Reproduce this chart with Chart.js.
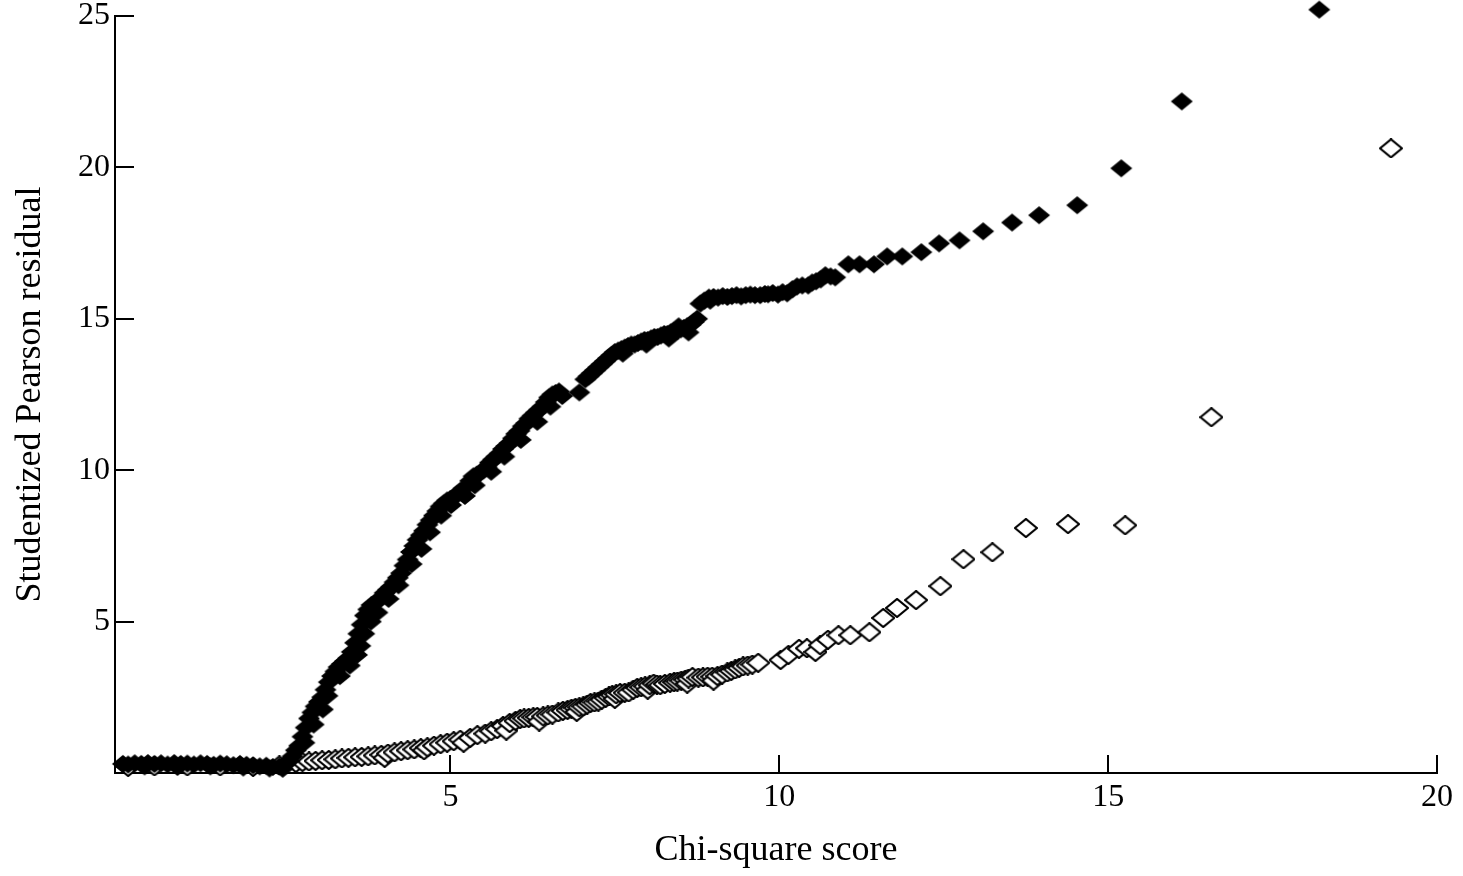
<!DOCTYPE html>
<html lang="en">
<head>
<meta charset="UTF-8">
<title>Studentized Pearson residual vs Chi-square score</title>
<script src="https://cdn.jsdelivr.net/npm/chart.js"></script>
<style>
  html, body { margin: 0; padding: 0; background: #ffffff; }
  #wrap { width: 1463px; height: 876px; position: relative; }
</style>
</head>
<body>
<div id="wrap"><canvas id="scatterChart"></canvas></div>
<script>
  // filled diamonds
  var filledX = [0.02, 0.10, 0.20, 0.30, 0.40, 0.50, 0.60, 0.70, 0.80, 0.90, 1.00, 1.10, 1.20, 1.30, 1.40, 1.50, 1.60, 1.70, 1.80, 1.90,
    2.00, 2.10, 2.20, 2.30, 2.40, 2.48, 2.55, 2.60, 2.65,
    2.70, 2.75, 2.80, 2.85, 2.90, 2.95, 3.00, 3.05, 3.10, 3.15, 3.20, 3.25, 3.30, 3.35, 3.40, 3.45, 3.50, 3.55, 3.60, 3.65,
    3.70, 3.75, 3.80, 3.85, 3.90, 3.95, 4.00, 4.05, 4.10, 4.15, 4.20, 4.25, 4.30, 4.35, 4.40, 4.45, 4.50, 4.55, 4.60, 4.65,
    4.70, 4.75, 4.80, 4.85, 4.90, 4.95, 5.00, 5.05, 5.10, 5.15, 5.20, 5.30, 5.35, 5.40, 5.45, 5.50, 5.55, 5.60, 5.65, 5.70,
    5.75, 5.80, 5.85, 5.90, 5.95, 6.00, 6.05, 6.10, 6.15, 6.20, 6.25, 6.30, 6.35, 6.40, 6.45, 6.50, 6.55, 6.60, 6.65, 6.96,
    7.05, 7.10, 7.15, 7.20, 7.25, 7.30, 7.35, 7.40, 7.45, 7.50, 7.55, 7.60, 7.65, 7.70, 7.75, 7.80, 7.85, 7.90, 7.95, 8.00,
    8.05, 8.10, 8.15, 8.20, 8.25, 8.30, 8.35, 8.40, 8.45, 8.50, 8.55, 8.60, 8.65, 8.70, 8.75,
    8.80, 8.86, 8.93, 9.00, 9.07, 9.14, 9.21, 9.28, 9.35, 9.42, 9.49, 9.56, 9.63, 9.71, 9.78, 9.83, 9.90, 9.98, 10.05, 10.12,
    10.20, 10.27, 10.35, 10.44, 10.50, 10.56, 10.63, 10.70, 10.78, 10.85, 11.05, 11.22, 11.44, 11.64, 11.87, 12.16, 12.43, 12.74, 13.10, 13.54,
    13.95, 14.53, 15.20, 16.12, 18.21,
    0.35, 0.85, 1.35, 1.85, 2.25, 2.45, 2.78, 2.92, 3.06, 3.13, 3.32, 3.47, 3.58, 3.63, 3.69, 3.79, 3.89, 4.06, 4.21, 4.41,
    4.56, 4.69, 4.86, 5.01, 5.22, 5.37, 5.62, 5.82, 6.07, 6.32, 6.52, 6.70, 7.62, 7.98, 8.32, 8.62, 8.47, 8.95];
  var filledY = [0.30, 0.28, 0.32, 0.30, 0.33, 0.30, 0.32, 0.28, 0.33, 0.30, 0.31, 0.28, 0.32, 0.30, 0.27, 0.31, 0.29, 0.26, 0.30, 0.27,
    0.25, 0.22, 0.24, 0.20, 0.22, 0.28, 0.40, 0.55, 0.75,
    0.90, 1.20, 1.50, 1.80, 2.00, 2.20, 2.35, 2.50, 2.75, 3.00, 3.20, 3.35, 3.50, 3.60, 3.70, 3.80, 4.00, 4.30, 4.60, 4.90,
    5.20, 5.40, 5.55, 5.60, 5.70, 5.80, 5.95, 6.05, 6.15, 6.30, 6.45, 6.60, 6.85, 7.05, 7.30, 7.50, 7.70, 7.85, 8.00, 8.20,
    8.35, 8.50, 8.65, 8.80, 8.90, 9.00, 9.05, 9.10, 9.20, 9.30, 9.40, 9.65, 9.80, 9.85, 9.90, 10.00, 10.10, 10.25, 10.35, 10.45,
    10.55, 10.70, 10.80, 10.90, 11.05, 11.20, 11.30, 11.45, 11.55, 11.70, 11.80, 11.90, 12.00, 12.10, 12.25, 12.40, 12.50, 12.55, 12.60, 12.57,
    13.00, 13.10, 13.20, 13.30, 13.40, 13.50, 13.60, 13.70, 13.80, 13.90, 13.95, 14.00, 14.05, 14.10, 14.15, 14.15, 14.20, 14.25, 14.30, 14.30,
    14.35, 14.40, 14.40, 14.45, 14.50, 14.50, 14.55, 14.60, 14.60, 14.65, 14.70, 14.75, 14.80, 14.90, 15.00,
    15.50, 15.60, 15.70, 15.72, 15.70, 15.75, 15.72, 15.75, 15.78, 15.74, 15.78, 15.80, 15.78, 15.78, 15.82, 15.81, 15.85, 15.80, 15.88, 15.84,
    15.98, 16.07, 16.10, 16.10, 16.20, 16.24, 16.30, 16.44, 16.40, 16.37, 16.80, 16.80, 16.80, 17.06, 17.06, 17.20, 17.49, 17.59, 17.89, 18.18,
    18.42, 18.75, 19.97, 22.18, 25.21,
    0.22, 0.20, 0.22, 0.18, 0.15, 0.14, 1.00, 1.60, 2.10, 2.55, 3.20, 3.55, 3.90, 4.20, 4.60, 5.00, 5.30, 5.75, 6.20, 6.90,
    7.40, 7.95, 8.50, 8.85, 9.15, 9.50, 9.95, 10.45, 11.00, 11.60, 12.10, 12.45, 13.85, 14.15, 14.35, 14.55, 14.75, 15.60];

  // hollow diamonds
  var hollowX = [0.10, 0.50, 1.00, 1.50, 2.00, 2.40,
    2.65, 2.75, 2.85, 2.95, 3.05, 3.15, 3.25, 3.35, 3.45, 3.55, 3.65, 3.75, 3.85, 3.95, 4.00, 4.05, 4.15, 4.25, 4.35, 4.45,
    4.55, 4.60, 4.65, 4.75, 4.85, 4.95, 5.05, 5.15, 5.20, 5.30, 5.41, 5.53, 5.62, 5.71, 5.80, 5.85, 5.90, 5.99, 6.06, 6.12, 6.19, 6.26, 6.32,
    6.35, 6.41, 6.48, 6.55, 6.64, 6.71, 6.78, 6.84, 6.90, 6.92, 6.96, 7.02, 7.08, 7.13, 7.19, 7.25, 7.30, 7.36, 7.41, 7.46, 7.50, 7.52, 7.58,
    7.65, 7.71, 7.78, 7.84, 7.90, 7.96, 8.00, 8.03, 8.09, 8.14, 8.19, 8.26, 8.34, 8.40, 8.45, 8.51, 8.57, 8.60, 8.62, 8.68, 8.77, 8.84,
    8.91, 8.98, 9.00, 9.06, 9.13, 9.21, 9.27, 9.33, 9.39, 9.45, 9.52, 9.59, 9.68,
    10.02, 10.14, 10.30, 10.42, 10.55, 10.62, 10.74, 10.90, 11.08, 11.37, 11.58, 11.79, 12.08, 12.45, 12.80, 13.24, 13.75, 14.39, 15.26, 16.57,
    19.30];
  var hollowY = [0.20, 0.22, 0.22, 0.22, 0.20, 0.25,
    0.33, 0.36, 0.38, 0.40, 0.42, 0.43, 0.45, 0.48, 0.50, 0.52, 0.53, 0.55, 0.58, 0.60, 0.50, 0.64, 0.68, 0.72, 0.75, 0.78,
    0.82, 0.75, 0.85, 0.90, 0.95, 1.00, 1.05, 1.10, 1.00, 1.16, 1.25, 1.30, 1.38, 1.45, 1.55, 1.40, 1.65, 1.72, 1.78, 1.80, 1.82, 1.84, 1.85,
    1.70, 1.87, 1.90, 1.93, 2.00, 2.05, 2.08, 2.12, 2.15, 2.02, 2.17, 2.20, 2.26, 2.31, 2.33, 2.36, 2.42, 2.48, 2.53, 2.57, 2.45, 2.60, 2.64,
    2.65, 2.66, 2.75, 2.81, 2.83, 2.86, 2.75, 2.90, 2.95, 2.92, 2.90, 2.94, 2.98, 3.00, 3.02, 3.05, 3.08, 2.95, 3.12, 3.17, 3.15, 3.16,
    3.18, 3.18, 3.05, 3.20, 3.25, 3.32, 3.37, 3.42, 3.47, 3.52, 3.55, 3.58, 3.64,
    3.73, 3.90, 4.10, 4.12, 4.00, 4.22, 4.40, 4.55, 4.55, 4.65, 5.12, 5.45, 5.71, 6.17, 7.06, 7.29, 8.09, 8.22, 8.18, 11.75,
    20.63];

  var xTickValues = [5, 10, 15, 20];
  var yTickValues = [5, 10, 15, 20, 25];

  function toPoints(xs, ys) {
    return xs.map((x, i) => ({ x: x, y: ys[i] }));
  }

  // diamond marker drawn once on a small canvas
  function diamond(filled) {
    let c = document.createElement("canvas");
    c.width = 24;
    c.height = 20;
    let ctx = c.getContext("2d");
    ctx.beginPath();
    ctx.moveTo(1, 10);
    ctx.lineTo(12, 1);
    ctx.lineTo(23, 10);
    ctx.lineTo(12, 19);
    ctx.closePath();
    if (filled) {
      ctx.fillStyle = "#000000";
      ctx.fill();
    } else {
      ctx.fillStyle = "#ffffff";
      ctx.fill();
      ctx.lineWidth = 2.2;
      ctx.strokeStyle = "#000000";
      ctx.stroke();
    }
    return c;
  }

  // tick marks pointing into the plot
  const innerTicks = {
    id: "innerTicks",
    afterDatasetsDraw(chart) {
      let ctx = chart.ctx;
      let xs = chart.scales.x, ys = chart.scales.y;
      let area = chart.chartArea;
      ctx.save();
      ctx.strokeStyle = "#000000";
      ctx.lineWidth = 2;
      ctx.beginPath();
      xTickValues.forEach(v => {
        let px = Math.round(xs.getPixelForValue(v));
        ctx.moveTo(px, area.bottom);
        ctx.lineTo(px, area.bottom - 18);
      });
      yTickValues.forEach(v => {
        let py = Math.round(ys.getPixelForValue(v));
        ctx.moveTo(area.left, py);
        ctx.lineTo(area.left + 19, py);
      });
      ctx.stroke();
      ctx.restore();
    }
  };

  const tickFont = { family: "'Liberation Serif', 'Times New Roman', serif", size: 32 };
  const titleFont = { family: "'Liberation Serif', 'Times New Roman', serif", size: 36 };

  new Chart(document.getElementById("scatterChart"), {
    type: "scatter",
    data: {
      datasets: [
        {
          label: "filled",
          data: toPoints(filledX, filledY),
          pointStyle: diamond(true),
          pointRadius: 11,
          clip: false
        },
        {
          label: "hollow",
          data: toPoints(hollowX, hollowY),
          pointStyle: diamond(false),
          pointRadius: 11,
          clip: false
        }
      ]
    },
    options: {
      responsive: true,
      maintainAspectRatio: false,
      animation: false,
      events: [],
      layout: { padding: { top: 16, right: 26, left: 0, bottom: 0 } },
      plugins: { legend: { display: false }, tooltip: { enabled: false } },
      scales: {
        x: {
          type: "linear",
          min: -0.1,
          max: 20,
          afterBuildTicks: s => { s.ticks = xTickValues.map(v => ({ value: v })); },
          afterFit: s => { s.height = 103; s.paddingLeft = 0; s.paddingRight = 0; },
          grid: { display: false, drawTicks: false },
          border: { display: true, color: "#000000", width: 2 },
          ticks: { color: "#000000", font: tickFont, padding: 5, maxRotation: 0 },
          title: { display: true, text: "Chi-square score", color: "#000000", font: titleFont, padding: { top: 0, bottom: 4 } }
        },
        y: {
          type: "linear",
          min: 0,
          max: 25,
          afterBuildTicks: s => { s.ticks = yTickValues.map(v => ({ value: v })); },
          afterFit: s => { s.width = 115; s.paddingTop = 0; s.paddingBottom = 0; },
          grid: { display: false, drawTicks: false },
          border: { display: true, color: "#000000", width: 2 },
          ticks: { color: "#000000", font: tickFont, padding: 5 },
          title: { display: true, text: "Studentized Pearson residual", color: "#000000", font: titleFont, padding: { top: 9, bottom: 0 } }
        }
      }
    },
    plugins: [innerTicks]
  });
</script>
</body>
</html>
